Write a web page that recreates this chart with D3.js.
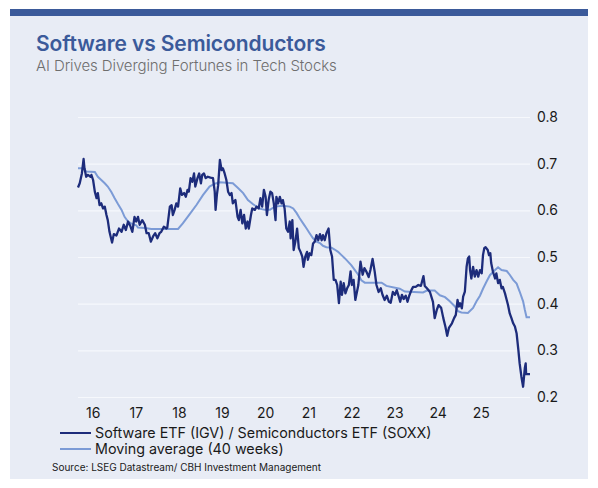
<!DOCTYPE html>
<html>
<head>
<meta charset="utf-8">
<script src="https://cdn.jsdelivr.net/npm/d3@7"></script>
<style>
  body { margin: 0; background: #ffffff; }
  text { font-family: Inter, "Noto Sans", sans-serif; }
</style>
</head>
<body>
<div id="chart"></div>
<script>
// Chart text
var title = "Software vs Semiconductors";
var subtitle = "AI Drives Diverging Fortunes in Tech Stocks";
var source = "Source: LSEG Datastream/ CBH Investment Management";
var seriesNames = ["Software ETF (IGV) / Semiconductors ETF (SOXX)", "Moving average (40 weeks)"];

// Tick labels
var yearTicks = [2016, 2017, 2018, 2019, 2020, 2021, 2022, 2023, 2024, 2025];
var valueTicks = [0.2, 0.3, 0.4, 0.5, 0.6, 0.7, 0.8];

// IGV / SOXX ratio (decimal year, value)
var ratioDates = [
  2015.66, 2015.70, 2015.75, 2015.79, 2015.81, 2015.85, 2015.89, 2015.95, 2015.97, 2016.01,
  2016.05, 2016.09, 2016.12, 2016.16, 2016.20, 2016.24, 2016.28, 2016.32, 2016.35, 2016.39,
  2016.45, 2016.49, 2016.55, 2016.61, 2016.67, 2016.72, 2016.77, 2016.82, 2016.87, 2016.92,
  2016.97, 2017.01, 2017.05, 2017.09, 2017.15, 2017.21, 2017.25, 2017.30, 2017.35, 2017.40,
  2017.45, 2017.50, 2017.55, 2017.59, 2017.65, 2017.71, 2017.73, 2017.79, 2017.83, 2017.86,
  2017.90, 2017.94, 2017.98, 2018.03, 2018.07, 2018.12, 2018.16, 2018.20, 2018.23, 2018.27,
  2018.31, 2018.35, 2018.38, 2018.43, 2018.47, 2018.51, 2018.54, 2018.58, 2018.62, 2018.67,
  2018.73, 2018.79, 2018.83, 2018.85, 2018.88, 2018.91, 2018.95, 2018.99, 2019.02, 2019.06,
  2019.10, 2019.14, 2019.18, 2019.22, 2019.25, 2019.31, 2019.36, 2019.39, 2019.43, 2019.47,
  2019.51, 2019.55, 2019.59, 2019.62, 2019.67, 2019.70, 2019.76, 2019.80, 2019.85, 2019.89,
  2019.93, 2019.97, 2020.01, 2020.04, 2020.08, 2020.12, 2020.16, 2020.20, 2020.24, 2020.26,
  2020.30, 2020.34, 2020.38, 2020.41, 2020.45, 2020.49, 2020.53, 2020.57, 2020.59, 2020.63,
  2020.66, 2020.70, 2020.74, 2020.78, 2020.82, 2020.86, 2020.89, 2020.93, 2020.97, 2020.99,
  2021.03, 2021.07, 2021.11, 2021.15, 2021.19, 2021.23, 2021.27, 2021.31, 2021.34, 2021.38,
  2021.42, 2021.47, 2021.51, 2021.55, 2021.59, 2021.63, 2021.67, 2021.71, 2021.75, 2021.78,
  2021.82, 2021.86, 2021.90, 2021.94, 2021.98, 2022.01, 2022.05, 2022.09, 2022.16, 2022.21,
  2022.26, 2022.30, 2022.35, 2022.40, 2022.44, 2022.49, 2022.54, 2022.58, 2022.63, 2022.68,
  2022.72, 2022.77, 2022.82, 2022.87, 2022.91, 2022.96, 2023.01, 2023.05, 2023.10, 2023.13,
  2023.17, 2023.21, 2023.26, 2023.30, 2023.34, 2023.39, 2023.43, 2023.49, 2023.55, 2023.61,
  2023.67, 2023.70, 2023.75, 2023.82, 2023.89, 2023.93, 2023.98, 2024.02, 2024.08, 2024.13,
  2024.18, 2024.22, 2024.26, 2024.28, 2024.33, 2024.38, 2024.42, 2024.46, 2024.49, 2024.52,
  2024.56, 2024.59, 2024.63, 2024.67, 2024.70, 2024.73, 2024.75, 2024.78, 2024.82, 2024.86,
  2024.90, 2024.94, 2024.98, 2025.02, 2025.05, 2025.08, 2025.11, 2025.16, 2025.19, 2025.22,
  2025.24, 2025.28, 2025.33, 2025.36, 2025.40, 2025.44, 2025.48, 2025.51, 2025.56, 2025.60,
  2025.63, 2025.67, 2025.71, 2025.75, 2025.79, 2025.83, 2025.87, 2025.90, 2025.94, 2025.98,
  2026.02, 2026.04, 2026.05, 2026.14
];
var ratioValues = [
  0.649, 0.658, 0.679, 0.710, 0.690, 0.672, 0.676, 0.672, 0.676, 0.665,
  0.640, 0.626, 0.637, 0.611, 0.615, 0.604, 0.608, 0.590, 0.579, 0.554,
  0.531, 0.549, 0.546, 0.561, 0.554, 0.569, 0.558, 0.576, 0.567, 0.554,
  0.586, 0.576, 0.586, 0.569, 0.579, 0.569, 0.551, 0.551, 0.533, 0.544,
  0.551, 0.540, 0.551, 0.554, 0.565, 0.561, 0.563, 0.608, 0.611, 0.590,
  0.601, 0.615, 0.608, 0.647, 0.633, 0.637, 0.629, 0.644, 0.640, 0.669,
  0.661, 0.679, 0.651, 0.669, 0.679, 0.658, 0.676, 0.679, 0.669, 0.672,
  0.670, 0.669, 0.640, 0.601, 0.633, 0.654, 0.708, 0.686, 0.690, 0.679,
  0.665, 0.640, 0.633, 0.637, 0.615, 0.622, 0.586, 0.579, 0.601, 0.572,
  0.590, 0.561, 0.576, 0.561, 0.590, 0.604, 0.601, 0.608, 0.604, 0.626,
  0.608, 0.644, 0.629, 0.590, 0.622, 0.640, 0.637, 0.615, 0.579, 0.629,
  0.615, 0.629, 0.615, 0.622, 0.604, 0.561, 0.554, 0.576, 0.540, 0.579,
  0.515, 0.533, 0.561, 0.519, 0.511, 0.501, 0.479, 0.501, 0.511, 0.494,
  0.508, 0.504, 0.529, 0.533, 0.547, 0.536, 0.549, 0.536, 0.547, 0.536,
  0.551, 0.561, 0.515, 0.501, 0.451, 0.451, 0.440, 0.401, 0.447, 0.419,
  0.444, 0.422, 0.433, 0.440, 0.469, 0.440, 0.451, 0.408, 0.440, 0.490,
  0.462, 0.476, 0.468, 0.457, 0.472, 0.496, 0.468, 0.440, 0.425, 0.433,
  0.419, 0.408, 0.417, 0.404, 0.402, 0.425, 0.419, 0.429, 0.414, 0.404,
  0.419, 0.410, 0.417, 0.404, 0.417, 0.429, 0.436, 0.436, 0.440, 0.438,
  0.459, 0.438, 0.433, 0.425, 0.404, 0.369, 0.387, 0.397, 0.391, 0.369,
  0.350, 0.331, 0.348, 0.351, 0.358, 0.369, 0.376, 0.408, 0.394, 0.401,
  0.390, 0.415, 0.426, 0.479, 0.497, 0.501, 0.472, 0.454, 0.479, 0.458,
  0.472, 0.458, 0.472, 0.465, 0.504, 0.519, 0.521, 0.515, 0.504, 0.508,
  0.487, 0.469, 0.454, 0.465, 0.444, 0.451, 0.433, 0.436, 0.422, 0.408,
  0.397, 0.379, 0.369, 0.358, 0.351, 0.336, 0.301, 0.272, 0.244, 0.222,
  0.262, 0.272, 0.249, 0.249
];

// 40-week moving average (decimal year, value)
var maDates = [
  2015.66, 2015.79, 2015.85, 2016.05, 2016.12, 2016.20, 2016.28, 2016.35, 2016.43, 2016.51,
  2016.59, 2016.67, 2016.74, 2016.82, 2016.93, 2017.01, 2017.05, 2017.21, 2017.36, 2017.98,
  2018.09, 2018.25, 2018.41, 2018.56, 2018.71, 2018.83, 2018.95, 2019.25, 2019.37, 2019.49,
  2019.60, 2019.72, 2019.87, 2019.99, 2020.11, 2020.22, 2020.41, 2020.57, 2020.65, 2020.73,
  2020.80, 2020.88, 2020.96, 2021.03, 2021.11, 2021.19, 2021.27, 2021.34, 2021.42, 2021.54,
  2021.61, 2021.69, 2021.77, 2021.85, 2021.92, 2022.00, 2022.08, 2022.15, 2022.23, 2022.31,
  2022.70, 2022.81, 2023.12, 2023.24, 2023.66, 2023.75, 2023.93, 2024.05, 2024.17, 2024.28,
  2024.40, 2024.47, 2024.55, 2024.70, 2024.82, 2024.90, 2024.98, 2025.05, 2025.13, 2025.21,
  2025.33, 2025.40, 2025.48, 2025.60, 2025.67, 2025.75, 2025.83, 2025.90, 2025.98, 2026.02,
  2026.06, 2026.14
];
var maValues = [
  0.690, 0.690, 0.683, 0.682, 0.672, 0.665, 0.658, 0.651, 0.640, 0.626,
  0.613, 0.601, 0.586, 0.576, 0.570, 0.568, 0.563, 0.562, 0.560, 0.560,
  0.572, 0.592, 0.612, 0.633, 0.651, 0.657, 0.660, 0.658, 0.648, 0.637,
  0.622, 0.613, 0.604, 0.601, 0.601, 0.608, 0.610, 0.608, 0.604, 0.594,
  0.583, 0.572, 0.561, 0.551, 0.540, 0.533, 0.530, 0.524, 0.521, 0.520,
  0.516, 0.511, 0.504, 0.497, 0.490, 0.482, 0.472, 0.463, 0.450, 0.445,
  0.445, 0.438, 0.432, 0.426, 0.424, 0.428, 0.428, 0.418, 0.414, 0.405,
  0.394, 0.384, 0.381, 0.380, 0.391, 0.405, 0.417, 0.432, 0.447, 0.461,
  0.472, 0.478, 0.472, 0.470, 0.462, 0.451, 0.443, 0.426, 0.405, 0.387,
  0.371, 0.371
];

var svgWidth = 598;
var svgHeight = 488;

// plot area inside the panel
var plot = { left: 78, right: 530, top: 117, bottom: 397 };

var colors = {
  panel: "#e8ecf5",
  bar: "#3b5a9a",
  title: "#3b5a9a",
  grid: "#f6f8fc",
  ratio: "#1d2c7b",
  ma: "#7c9bd6"
};

var svg = d3.select("#chart")
  .append("svg")
  .attr("width", svgWidth)
  .attr("height", svgHeight);

// background panel and top bar
svg.append("rect")
  .attr("x", 10).attr("y", 9)
  .attr("width", 578).attr("height", 470)
  .attr("fill", colors.panel);
svg.append("rect")
  .attr("x", 10).attr("y", 9)
  .attr("width", 578).attr("height", 7)
  .attr("fill", colors.bar);

// Titles
svg.append("text")
  .attr("x", 36).attr("y", 51)
  .attr("fill", colors.title)
  .style("font-size", "21px")
  .style("font-weight", 600)
  .style("letter-spacing", "-0.1px")
  .text(title);
svg.append("text")
  .attr("x", 36).attr("y", 71)
  .attr("fill", "#6e6e6e")
  .style("font-size", "15px")
  .style("font-weight", 300)
  .style("letter-spacing", "-0.1px")
  .text(subtitle);

// Scales
var x = d3.scaleLinear()
  .domain([ratioDates[0], ratioDates[ratioDates.length - 1]])
  .range([plot.left, plot.right]);
var y = d3.scaleLinear()
  .domain([0.2, 0.8])
  .range([plot.bottom, plot.top]);

// Gridlines + y labels on the right
var yAxis = d3.axisRight(y)
  .tickValues(valueTicks)
  .tickFormat(d3.format(".1f"))
  .tickSize(-(plot.right - plot.left))
  .tickPadding(7);
var yg = svg.append("g")
  .attr("transform", `translate(${plot.right}, 0)`)
  .call(yAxis);
yg.select(".domain").remove();
yg.selectAll(".tick line").attr("stroke", colors.grid).attr("stroke-width", 1.2);
yg.selectAll(".tick text")
  .attr("fill", "#1a1a1a")
  .style("font-size", "14px");

// X labels (no axis line)
var xAxis = d3.axisBottom(x)
  .tickValues(yearTicks)
  .tickFormat(d => String(d).slice(2))
  .tickSize(0)
  .tickPadding(11);
var xg = svg.append("g")
  .attr("transform", `translate(0, ${plot.bottom})`)
  .call(xAxis);
xg.select(".domain").remove();
xg.selectAll(".tick text")
  .attr("fill", "#1a1a1a")
  .style("font-size", "14px");

// Lines
var ratioData = ratioDates.map((d, i) => ({ date: d, value: ratioValues[i] }));
var maData = maDates.map((d, i) => ({ date: d, value: maValues[i] }));

var line = d3.line()
  .x(d => x(d.date))
  .y(d => y(d.value));

svg.append("path")
  .datum(maData)
  .attr("fill", "none")
  .attr("stroke", colors.ma)
  .attr("stroke-width", 2)
  .attr("d", line);

svg.append("path")
  .datum(ratioData)
  .attr("fill", "none")
  .attr("stroke", colors.ratio)
  .attr("stroke-width", 2.3)
  .attr("stroke-linejoin", "round")
  .attr("d", line);

// Legend
var legend = svg.append("g").attr("transform", "translate(60, 433)");
var legendColors = [colors.ratio, colors.ma];
seriesNames.forEach(function(name, i) {
  var row = legend.append("g").attr("transform", `translate(0, ${i * 16})`);
  row.append("line")
    .attr("x1", 0).attr("x2", 31)
    .attr("y1", 0).attr("y2", 0)
    .attr("stroke", legendColors[i])
    .attr("stroke-width", 2);
  row.append("text")
    .attr("x", 35).attr("y", 0)
    .attr("dy", "0.35em")
    .attr("fill", "#1a1a1a")
    .style("font-size", "14.3px")
    .text(name);
});

// Source
svg.append("text")
  .attr("x", 52).attr("y", 471)
  .attr("fill", "#1a1a1a")
  .style("font-size", "10px")
  .text(source);
</script>
</body>
</html>
